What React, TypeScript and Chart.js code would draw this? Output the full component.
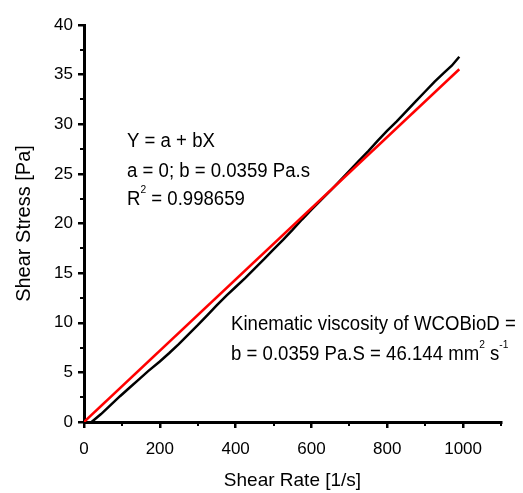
import React, { useEffect, useRef } from "react";
import { Chart, registerables } from "chart.js";

Chart.register(...registerables);

// Measured flow curve (shear rate in 1/s, shear stress in Pa)
const measuredRate = [20, 45, 70, 95, 120, 145, 170, 200, 225, 250, 275, 300, 325, 350, 375, 400, 425, 450, 475, 500, 525, 550, 575, 600, 625, 650, 675, 700, 725, 750, 775, 800, 825, 850, 875, 900, 925, 950, 970, 980, 990];
const measuredStress = [0, 0.8, 1.7, 2.6, 3.45, 4.3, 5.15, 6.1, 6.95, 7.85, 8.8, 9.75, 10.75, 11.75, 12.7, 13.6, 14.5, 15.45, 16.4, 17.4, 18.35, 19.35, 20.4, 21.4, 22.35, 23.3, 24.3, 25.3, 26.3, 27.3, 28.35, 29.35, 30.3, 31.3, 32.3, 33.3, 34.3, 35.2, 35.9, 36.35, 36.8];

// Linear fit Y = a + bX, a = 0, b = 0.0359
const fitRate = [0, 990];
const fitStress = [0, 35.54];

const xTicks = [0, 200, 400, 600, 800, 1000];
const yTicks = [0, 5, 10, 15, 20, 25, 30, 35, 40];
const xMinorTicks = [100, 300, 500, 700, 900, 1100];
const yMinorTicks = [2.5, 7.5, 12.5, 17.5, 22.5, 27.5, 32.5, 37.5];

const xTitle = "Shear Rate [1/s]";
const yTitle = "Shear Stress [Pa]";

const FONT = "'Liberation Sans', Arial, Helvetica, sans-serif";

type Part = { t: string; sup?: boolean };

function drawRich(ctx: CanvasRenderingContext2D, x: number, y: number, parts: Part[]) {
  const sx = 0.93;
  ctx.save();
  ctx.translate(x, y);
  ctx.scale(sx, 1);
  ctx.fillStyle = "#000";
  ctx.textBaseline = "alphabetic";
  ctx.textAlign = "left";
  let cx = 0;
  for (const p of parts) {
    ctx.font = p.sup ? `11px ${FONT}` : `20px ${FONT}`;
    ctx.fillText(p.t, cx, p.sup ? -12 : 0);
    cx += ctx.measureText(p.t).width;
  }
  ctx.restore();
}

const annotationPlugin = {
  id: "annotations",
  afterDraw(chart: any) {
    const ctx: CanvasRenderingContext2D = chart.ctx;
    const xs = chart.scales.x;
    const ys = chart.scales.y;
    // minor ticks
    ctx.save();
    ctx.strokeStyle = "#000";
    ctx.lineWidth = 2;
    const bottom = chart.chartArea.bottom;
    const left = chart.chartArea.left;
    for (const v of xMinorTicks) {
      const px = Math.round(xs.getPixelForValue(v));
      ctx.beginPath();
      ctx.moveTo(px, bottom);
      ctx.lineTo(px, bottom + 4);
      ctx.stroke();
    }
    for (const v of yMinorTicks) {
      const py = Math.round(ys.getPixelForValue(v));
      ctx.beginPath();
      ctx.moveTo(left, py);
      ctx.lineTo(left - 4, py);
      ctx.stroke();
    }
    ctx.restore();

    drawRich(ctx, 127, 147, [{ t: "Y = a + bX" }]);
    drawRich(ctx, 127, 176.5, [{ t: "a = 0; b = 0.0359 Pa.s" }]);
    drawRich(ctx, 127, 205, [{ t: "R" }, { t: "2", sup: true }, { t: " = 0.998659" }]);
    drawRich(ctx, 231, 330, [{ t: "Kinematic viscosity of WCOBioD =" }]);
    drawRich(ctx, 231, 360, [
      { t: "b = 0.0359 Pa.S = 46.144 mm" },
      { t: "2", sup: true },
      { t: " s" },
      { t: "-1", sup: true },
    ]);
  },
};

export default function App() {
  const ref = useRef<HTMLCanvasElement | null>(null);

  useEffect(() => {
    if (!ref.current) return;
    const measured = measuredRate.map((x, i) => ({ x, y: measuredStress[i] }));
    const fit = fitRate.map((x, i) => ({ x, y: fitStress[i] }));

    const chart = new Chart(ref.current, {
      type: "line",
      data: {
        datasets: [
          {
            label: "Linear fit",
            data: fit,
            borderColor: "#ff0000",
            borderWidth: 2.5,
            pointRadius: 0,
            tension: 0,
            fill: false,
          },
          {
            label: "Measured",
            data: measured,
            borderColor: "#000000",
            borderWidth: 2.5,
            pointRadius: 0,
            tension: 0,
            fill: false,
          },
        ],
      },
      options: {
        responsive: false,
        animation: false,
        layout: { padding: { top: 25, right: 22, left: 0, bottom: 0 } },
        plugins: {
          legend: { display: false },
          tooltip: { enabled: false },
        },
        scales: {
          x: {
            type: "linear",
            min: 0,
            max: 1100,
            afterBuildTicks: (s: any) => {
              s.ticks = xTicks.map((v) => ({ value: v }));
            },
            afterFit: (s: any) => {
              s.height = 71;
            },
            ticks: {
              color: "#000",
              font: { family: FONT, size: 17 },
              padding: 11,
              maxRotation: 0,
              autoSkip: false,
              callback: (v: any) => String(v),
            },
            grid: {
              display: true,
              drawOnChartArea: false,
              drawTicks: true,
              tickLength: 6,
              color: "#000",
              lineWidth: 2.5,
            },
            border: { display: true, color: "#000", width: 3 },
            title: {
              display: true,
              text: xTitle,
              color: "#000",
              font: { family: FONT, size: 19 },
              padding: { top: 0, bottom: 1 },
            },
          },
          y: {
            type: "linear",
            min: 0,
            max: 40,
            afterBuildTicks: (s: any) => {
              s.ticks = yTicks.map((v) => ({ value: v }));
            },
            afterFit: (s: any) => {
              s.width = 84;
            },
            ticks: {
              color: "#000",
              font: { family: FONT, size: 17 },
              padding: 5,
              autoSkip: false,
              callback: (v: any) => String(v),
            },
            grid: {
              display: true,
              drawOnChartArea: false,
              drawTicks: true,
              tickLength: 6,
              color: "#000",
              lineWidth: 2.5,
            },
            border: { display: true, color: "#000", width: 3 },
            title: {
              display: true,
              text: yTitle,
              color: "#000",
              font: { family: FONT, size: 20 },
              padding: { top: 12, bottom: 0 },
            },
          },
        },
      },
      plugins: [annotationPlugin],
    } as any);

    return () => chart.destroy();
  }, []);

  return (
    <div style={{ position: "absolute", left: 0, top: 0, width: 523, height: 493, background: "#fff" }}>
      <canvas ref={ref} width={523} height={493} style={{ display: "block" }} />
    </div>
  );
}
